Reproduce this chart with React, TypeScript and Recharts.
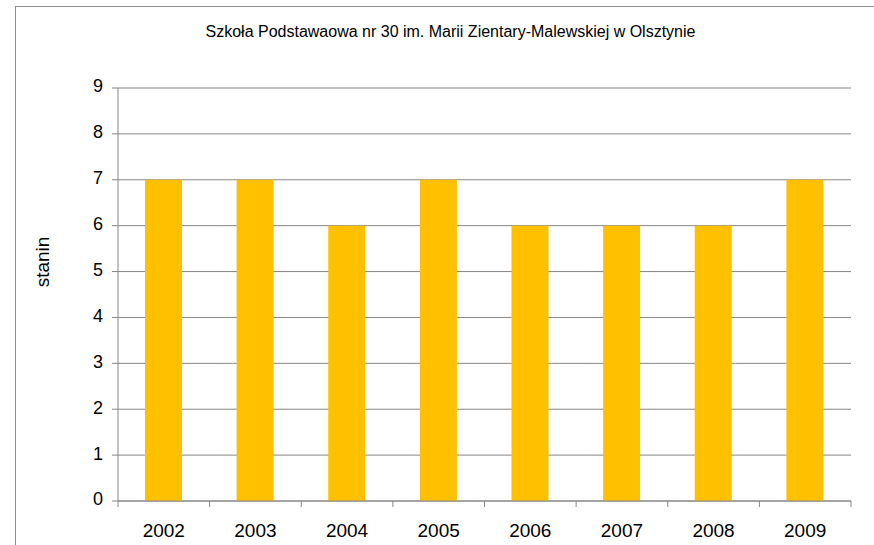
import React from "react"
import { Bar, BarChart, CartesianGrid, XAxis, YAxis } from "recharts"

const years = ["2002", "2003", "2004", "2005", "2006", "2007", "2008", "2009"]
const stanin = [7, 7, 6, 7, 6, 6, 6, 7]
const yTicks = [0, 1, 2, 3, 4, 5, 6, 7, 8, 9]

const data = years.map((year, i) => ({ year, stanin: stanin[i] }))

const W = 874
const H = 545
const M = { top: 88, right: 23, bottom: 14, left: 78 }
const Y_AXIS_W = 40
const PLOT_W = W - M.left - M.right - Y_AXIS_W
const BAND = PLOT_W / years.length

const AXIS = "#868686"
const FONT = "'Liberation Sans', Arial, sans-serif"

// Excel style: tick marks sit between categories, labels in the middle
function YearTick(props: any) {
  const { x, y, payload, index } = props
  const last = index === years.length - 1
  return (
    <g>
      <line x1={x - BAND / 2} x2={x - BAND / 2} y1={y} y2={y + 6} stroke={AXIS} />
      {last && <line x1={x + BAND / 2} x2={x + BAND / 2} y1={y} y2={y + 6} stroke={AXIS} />}
      <text x={x} y={y + 36} textAnchor="middle" fontSize={19} fill="#000" fontFamily={FONT}>
        {payload.value}
      </text>
    </g>
  )
}

function StaninLabel() {
  return (
    <text
      x={42}
      y={262}
      transform="rotate(-90, 42, 262)"
      textAnchor="middle"
      dominantBaseline="central"
      fontSize={19}
      fill="#000"
      fontFamily={FONT}
    >
      stanin
    </text>
  )
}

export default function App() {
  return (
    <div
      style={{
        position: "absolute",
        left: 0,
        top: 0,
        width: W,
        height: H,
        overflow: "hidden",
        background: "#fff",
        fontFamily: FONT,
      }}
    >
      <div
        style={{
          position: "absolute",
          left: 15,
          top: 6,
          width: W,
          height: H,
          borderLeft: "1px solid #8c8c8c",
          borderTop: "1px solid #8c8c8c",
        }}
      />
      <div
        style={{
          position: "absolute",
          left: 0,
          top: 23,
          width: 901,
          textAlign: "center",
          fontSize: 16,
          color: "#000",
        }}
      >
        Szkoła Podstawaowa nr 30 im. Marii Zientary-Malewskiej w Olsztynie
      </div>
      <div style={{ position: "absolute", left: 0, top: 0 }}>
        <BarChart width={W} height={H} data={data} margin={M} barSize={37}>
          <CartesianGrid vertical={false} stroke={AXIS} strokeDasharray="0" />
          <XAxis
            dataKey="year"
            height={30}
            axisLine={{ stroke: AXIS }}
            tickLine={false}
            tickSize={0}
            tickMargin={0}
            interval={0}
            tick={<YearTick />}
          />
          <YAxis
            width={Y_AXIS_W}
            domain={[0, 9]}
            ticks={yTicks}
            interval={0}
            axisLine={{ stroke: AXIS }}
            tickLine={{ stroke: AXIS }}
            tickSize={6}
            tickMargin={9}
            tick={{ fontSize: 18, fill: "#000", fontFamily: FONT, dy: -2 }}
            label={<StaninLabel />}
          />
          <Bar dataKey="stanin" fill="#FFC000" isAnimationActive={false} />
        </BarChart>
      </div>
    </div>
  )
}
